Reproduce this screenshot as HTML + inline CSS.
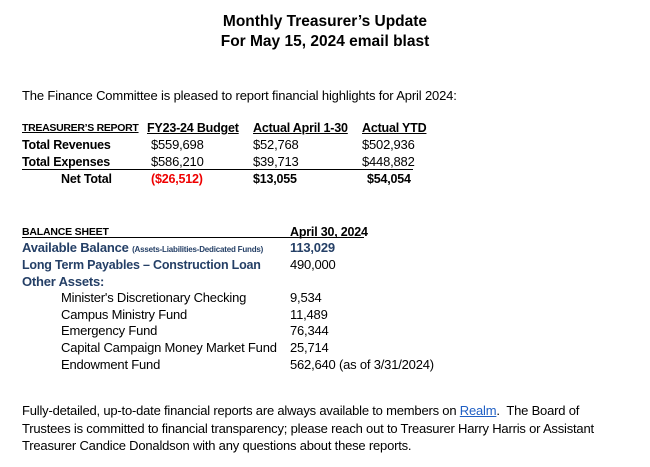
<!DOCTYPE html>
<html><head><meta charset="utf-8"><style>
body{margin:0;width:650px;height:467px;background:#fff;position:relative;overflow:hidden;font-family:"Liberation Sans",Arial,sans-serif;color:#000}
.t{position:absolute;white-space:nowrap;font-size:13px;line-height:14px;letter-spacing:-0.2px}
.b{font-weight:bold}
.u{text-decoration:underline}
.n{color:#243f66;font-weight:bold;font-size:13px;letter-spacing:-0.2px}
.ttl{position:absolute;left:0;width:650px;text-align:center;font-weight:bold;font-size:15.5px;line-height:18px}
</style></head><body>
<div class="ttl" style="top:13px">Monthly Treasurer’s Update</div>
<div class="ttl" style="top:33px">For May 15, 2024 email blast</div>
<div class="t" style="left:22px;top:89px;letter-spacing:-0.15px">The Finance Committee is pleased to report financial highlights for April 2024:</div>

<div class="t b u" style="left:22px;top:121px;font-size:10.5px;letter-spacing:-0.3px">TREASURER’S REPORT</div>
<div class="t b u" style="left:147px;top:121px;font-size:12.5px">FY23-24 Budget</div>
<div class="t b u" style="left:253px;top:121px;font-size:12.5px">Actual April 1-30</div>
<div class="t b u" style="left:362px;top:121px;font-size:12.5px">Actual YTD</div>
<div class="t b" style="left:22px;top:138px;font-size:12.5px">Total Revenues</div>
<div class="t" style="left:151px;top:138px">$559,698</div>
<div class="t" style="left:253px;top:138px">$52,768</div>
<div class="t" style="left:362px;top:138px">$502,936</div>
<div class="t b" style="left:22px;top:155px;font-size:12.5px">Total Expenses</div>
<div class="t" style="left:151px;top:155px">$586,210</div>
<div class="t" style="left:253px;top:155px">$39,713</div>
<div class="t" style="left:362px;top:155px">$448,882</div>
<div style="position:absolute;left:22px;top:169px;width:391px;height:1px;background:#000"></div>
<div class="t b" style="left:61px;top:172px;font-size:12.5px">Net Total</div>
<div class="t b" style="left:151px;top:172px;color:#e00;font-size:12.5px">($26,512)</div>
<div class="t b" style="left:253px;top:172px;font-size:12.5px">$13,055</div>
<div class="t b" style="left:367px;top:172px;font-size:12.5px">$54,054</div>

<div class="t b" style="left:22px;top:225px;font-size:10.5px">BALANCE SHEET</div>
<div class="t b" style="left:290px;top:225px;font-size:12.5px">April 30, 2024</div>
<div style="position:absolute;left:22px;top:237px;width:342px;height:1px;background:#000"></div>
<div class="t n" style="left:22px;top:241px">Available Balance <span style="font-size:8px">(Assets-Liabilities-Dedicated Funds)</span></div>
<div class="t n" style="left:290px;top:241px">113,029</div>
<div class="t n" style="left:22px;top:258px;font-size:12.5px">Long Term Payables – Construction Loan</div>
<div class="t" style="left:290px;top:258px">490,000</div>
<div class="t n" style="left:22px;top:275px">Other Assets:</div>
<div class="t" style="left:61px;top:291px">Minister's Discretionary Checking</div>
<div class="t" style="left:290px;top:291px">9,534</div>
<div class="t" style="left:61px;top:308px">Campus Ministry Fund</div>
<div class="t" style="left:290px;top:308px">11,489</div>
<div class="t" style="left:61px;top:324px">Emergency Fund</div>
<div class="t" style="left:290px;top:324px">76,344</div>
<div class="t" style="left:61px;top:341px">Capital Campaign Money Market Fund</div>
<div class="t" style="left:290px;top:341px">25,714</div>
<div class="t" style="left:61px;top:358px">Endowment Fund</div>
<div class="t" style="left:290px;top:358px">562,640 (as of 3/31/2024)</div>

<div class="t" style="left:22px;top:404px">Fully-detailed, up-to-date financial reports are always available to members on <span style="color:#1f5fc4;text-decoration:underline">Realm</span>.&nbsp; The Board of</div>
<div class="t" style="left:22px;top:422px">Trustees is committed to financial transparency; please reach out to Treasurer Harry Harris or Assistant</div>
<div class="t" style="left:22px;top:439px">Treasurer Candice Donaldson with any questions about these reports.</div>
</body></html>
